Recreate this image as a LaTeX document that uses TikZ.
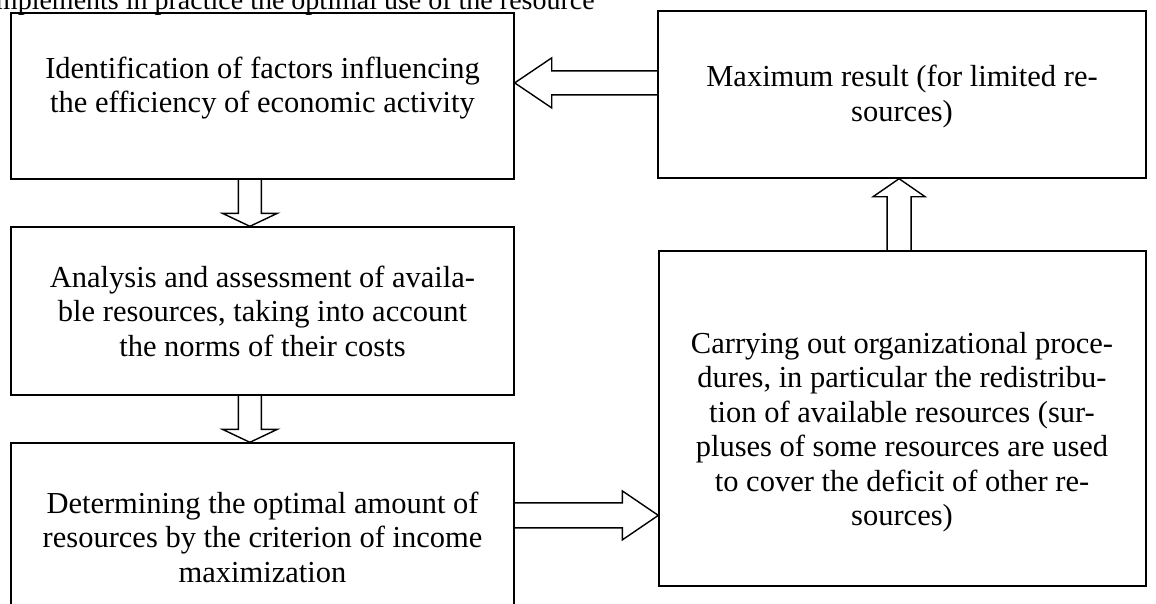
\documentclass[tikz,border=0pt]{standalone}
\usepackage{fontspec}
\setmainfont{Liberation Serif}
\usetikzlibrary{calc}

% Hollow block arrow: #1 start, #2 tip, #3 shaft half width,
% #4 head half width, #5 head length
\newcommand\blockarr[5]{%
  \coordinate (ba-b) at ($(#2)!#5!(#1)$);
  \draw[blockarrow] ($(#1)!#3!90:(#2)$) -- ($(ba-b)!#3!-90:(#1)$)
    -- ($(ba-b)!#4!-90:(#1)$) -- (#2) -- ($(ba-b)!#4!90:(#1)$)
    -- ($(ba-b)!#3!90:(#1)$) -- ($(#1)!#3!-90:(#2)$);
}

\begin{document}
\begin{tikzpicture}[x=1pt,y=-1pt,
  box/.style={draw, line width=1.4pt, inner sep=0pt},
  txt/.style={align=center, font=\fontsize{30.5}{34.5}\selectfont, inner sep=0pt},
  blockarrow/.style={draw, line width=1.4pt, line join=miter}]
\useasboundingbox (0,0) rectangle (1156,603);
\clip (0,0) rectangle (1156,603);

% caption line running in from above
\node[anchor=base west, inner sep=0pt, font=\fontsize{28}{34.5}\selectfont] (cap) at (-12,9)
  {implements in practice the optimal use of the resource};

% left column
\node[box, minimum width=503pt, minimum height=166pt] (b1) at (262.5,96) {};
\node[box, minimum width=503pt, minimum height=168pt] (b2) at (262.5,311) {};
\node[box, minimum width=503pt, minimum height=188pt] (b3) at (262.5,537) {};
% right column
\node[box, minimum width=488pt, minimum height=167pt] (r1) at (902,94.5) {};
\node[box, minimum width=487pt, minimum height=335pt] (r2) at (902.5,418.5) {};

\node[txt] (b1t) at (262.5,88) {Identification of factors influencing\\the efficiency of economic activity};
\node[txt] (b2t) at (262.5,311) {Analysis and assessment of availa-\\ble resources, taking into account\\the norms of their costs};
\node[txt] (b3t) at (262.5,537) {Determining the optimal amount of\\resources by the criterion of income\\maximization};
\node[txt] (r1t) at (902,96.5) {Maximum result (for limited re-\\sources)};
\node[txt] (r2t) at (902,432) {Carrying out organizational proce-\\dures, in particular the redistribu-\\tion of available resources (sur-\\pluses of some resources are used\\to cover the deficit of other re-\\sources)};

% connectors
\coordinate (a1s) at ($(r1.north west)!0.431!(r1.south west)$);
\coordinate (a1t) at (b1.east |- a1s);
\blockarr{a1s}{a1t}{12pt}{25pt}{37pt}

\coordinate (a2s) at ($(b1.south west)!0.475!(b1.south east)$);
\coordinate (a2t) at (a2s |- b2.north);
\blockarr{a2s}{a2t}{11.5pt}{27.5pt}{13pt}

\coordinate (a3s) at ($(b2.south west)!0.475!(b2.south east)$);
\coordinate (a3t) at (a3s |- b3.north);
\blockarr{a3s}{a3t}{11.5pt}{27.5pt}{13pt}

\coordinate (a4t) at ($(r2.north west)!0.788!(r2.south west)$);
\coordinate (a4s) at (b3.east |- a4t);
\blockarr{a4s}{a4t}{12.5pt}{24.5pt}{36pt}

\coordinate (a5s) at ($(r2.north west)!0.493!(r2.north east)$);
\coordinate (a5t) at (a5s |- r1.south);
\blockarr{a5s}{a5t}{12pt}{26pt}{18pt}
\end{tikzpicture}
\end{document}
